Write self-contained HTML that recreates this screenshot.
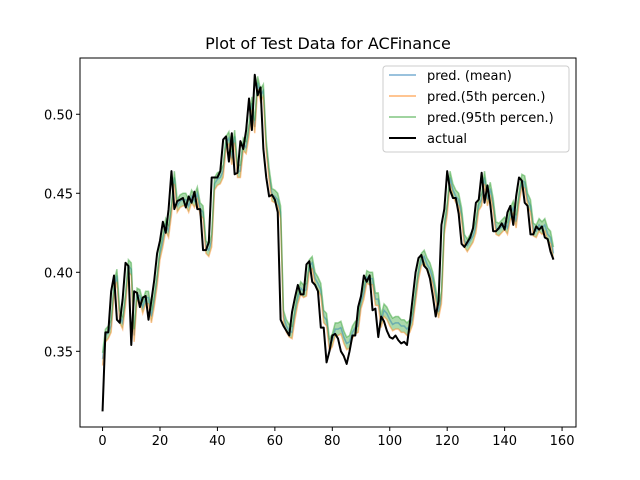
<!DOCTYPE html>
<html><head><meta charset="utf-8"><style>
body{margin:0;background:#fff}
svg{display:block;font-family:"DejaVu Sans","Liberation Sans",sans-serif}
</style></head><body>
<svg id="chart" width="640" height="480" viewBox="0 0 640 480">
<rect width="640" height="480" fill="#fff"/>
<text x="328" y="49" font-size="16" text-anchor="middle">Plot of Test Data for ACFinance</text>
<g id="plot"></g>
<g id="axes"></g>
<g id="legend">
<rect x="383" y="66" width="186" height="86" rx="3" fill="#fff" fill-opacity="0.8" stroke="#ccc"/>
<line x1="389" x2="416" y1="75" y2="75" stroke="#1f77b4" stroke-opacity="0.45" stroke-width="2"/>
<text x="427" y="80" font-size="13">pred. (mean)</text>
<line x1="389" x2="416" y1="96" y2="96" stroke="#ff7f0e" stroke-opacity="0.45" stroke-width="2"/>
<text x="427" y="101" font-size="13">pred.(5th percen.)</text>
<line x1="389" x2="416" y1="117" y2="117" stroke="#2ca02c" stroke-opacity="0.45" stroke-width="2"/>
<text x="427" y="122" font-size="13">pred.(95th percen.)</text>
<line x1="389" x2="416" y1="138" y2="138" stroke="#000" stroke-width="2"/>
<text x="427" y="143" font-size="13">actual</text>
</g>
</svg>
<script>
const actual=[0.312,0.362,0.362,0.388,0.398,0.370,0.368,0.383,0.406,0.404,
0.354,0.388,0.387,0.378,0.384,0.385,0.370,0.382,0.395,0.412,
0.420,0.432,0.425,0.440,0.464,0.440,0.445,0.446,0.447,0.441,
0.448,0.444,0.451,0.440,0.440,0.414,0.414,0.419,0.460,0.460,
0.460,0.464,0.484,0.486,0.470,0.488,0.462,0.463,0.483,0.478,
0.490,0.510,0.490,0.525,0.512,0.517,0.478,0.460,0.448,0.449,
0.446,0.438,0.370,0.366,0.363,0.360,0.375,0.384,0.392,0.386,
0.386,0.405,0.407,0.394,0.392,0.388,0.365,0.365,0.343,0.350,
0.360,0.361,0.358,0.350,0.347,0.342,0.350,0.360,0.360,0.378,
0.385,0.398,0.394,0.398,0.376,0.377,0.359,0.372,0.369,0.363,
0.359,0.358,0.360,0.357,0.355,0.356,0.354,0.368,0.384,0.400,
0.409,0.411,0.404,0.402,0.396,0.385,0.372,0.382,0.430,0.440,
0.464,0.452,0.447,0.447,0.437,0.418,0.416,0.419,0.422,0.428,
0.444,0.446,0.463,0.444,0.455,0.443,0.426,0.426,0.428,0.431,
0.427,0.438,0.442,0.430,0.448,0.460,0.458,0.444,0.442,0.424,
0.424,0.429,0.427,0.429,0.422,0.421,0.413,0.408];
const predMean=[0.345,0.360,0.362,0.366,0.390,0.398,0.372,0.368,0.383,0.404,
0.402,0.360,0.386,0.385,0.378,0.384,0.384,0.372,0.382,0.395,
0.412,0.420,0.430,0.426,0.440,0.460,0.442,0.445,0.446,0.446,
0.442,0.448,0.445,0.450,0.440,0.438,0.416,0.414,0.420,0.456,
0.459,0.460,0.464,0.482,0.485,0.472,0.486,0.464,0.464,0.481,
0.479,0.490,0.507,0.492,0.520,0.512,0.515,0.480,0.462,0.449,
0.448,0.446,0.438,0.372,0.366,0.363,0.362,0.374,0.384,0.390,
0.388,0.389,0.404,0.406,0.396,0.393,0.389,0.372,0.370,0.354,
0.357,0.364,0.364,0.365,0.359,0.355,0.356,0.362,0.365,0.366,
0.381,0.387,0.397,0.396,0.396,0.383,0.383,0.369,0.376,0.374,
0.370,0.367,0.368,0.368,0.366,0.366,0.364,0.366,0.371,0.385,
0.399,0.408,0.410,0.405,0.402,0.396,0.386,0.375,0.384,0.428,
0.440,0.460,0.452,0.448,0.446,0.437,0.420,0.417,0.420,0.423,
0.429,0.443,0.446,0.460,0.446,0.453,0.443,0.428,0.427,0.429,
0.431,0.428,0.437,0.441,0.432,0.447,0.458,0.457,0.446,0.442,
0.427,0.426,0.430,0.428,0.430,0.424,0.422,0.412];
const bandLow=0.004, bandHigh=0.004;
const xTicks=[0,20,40,60,80,100,120,140,160];
const yTicks=[0.35,0.40,0.45,0.50];
const yTickLabels=["0.35","0.40","0.45","0.50"];

const L=80,R=576,T=58,B=427;
const x0=-7.85,x1=164.85,y0=0.3021,y1=0.5356;
const sx=v=>L+(v-x0)/(x1-x0)*(R-L);
const sy=v=>B-(v-y0)/(y1-y0)*(B-T);
const NS="http://www.w3.org/2000/svg";
const plot=document.getElementById('plot'),axes=document.getElementById('axes');
function mk(tag,attrs,parent){const e=document.createElementNS(NS,tag);for(const k in attrs)e.setAttribute(k,attrs[k]);parent.appendChild(e);return e;}
const lo=predMean.map(v=>v-bandLow), hi=predMean.map(v=>v+bandHigh);
const pts=a=>a.map((v,i)=>sx(i).toFixed(2)+','+sy(v).toFixed(2)).join(' ');
let d='M'+hi.map((v,i)=>sx(i).toFixed(2)+','+sy(v).toFixed(2)).join('L');
for(let i=lo.length-1;i>=0;i--)d+='L'+sx(i).toFixed(2)+','+sy(lo[i]).toFixed(2);
const band=mk('path',{d:d+'Z',fill:'#2ca02c','fill-opacity':0.4},plot);


const lm=mk('polyline',{points:pts(predMean),fill:'none',stroke:'#1f77b4','stroke-opacity':0.45,'stroke-width':1.5},plot);


const l5=mk('polyline',{points:pts(lo),fill:'none',stroke:'#ff7f0e','stroke-opacity':0.45,'stroke-width':1.5},plot);


const l95=mk('polyline',{points:pts(hi),fill:'none',stroke:'#2ca02c','stroke-opacity':0.45,'stroke-width':1.5},plot);


const la=mk('polyline',{points:pts(actual),fill:'none',stroke:'#000','stroke-width':2,'stroke-linejoin':'round'},plot);


const frame=mk('rect',{x:L,y:T,width:R-L,height:B-T,fill:'none',stroke:'#000','stroke-width':1},axes);


xTicks.forEach(t=>{const x=sx(t);
 const tk=mk('line',{x1:x,x2:x,y1:B,y2:B+4,stroke:'#000'},axes);
 
 
 const tx=mk('text',{x:x,y:B+18,'font-size':13,'text-anchor':'middle'},axes);tx.textContent=t;
 
 });
yTicks.forEach((t,i)=>{const y=sy(t);
 const tk=mk('line',{x1:L-4,x2:L,y1:y,y2:y,stroke:'#000'},axes);
 
 
 const tx=mk('text',{x:L-7,y:y+5,'font-size':13,'text-anchor':'end'},axes);tx.textContent=yTickLabels[i];
 
 });
</script>
</body></html>
